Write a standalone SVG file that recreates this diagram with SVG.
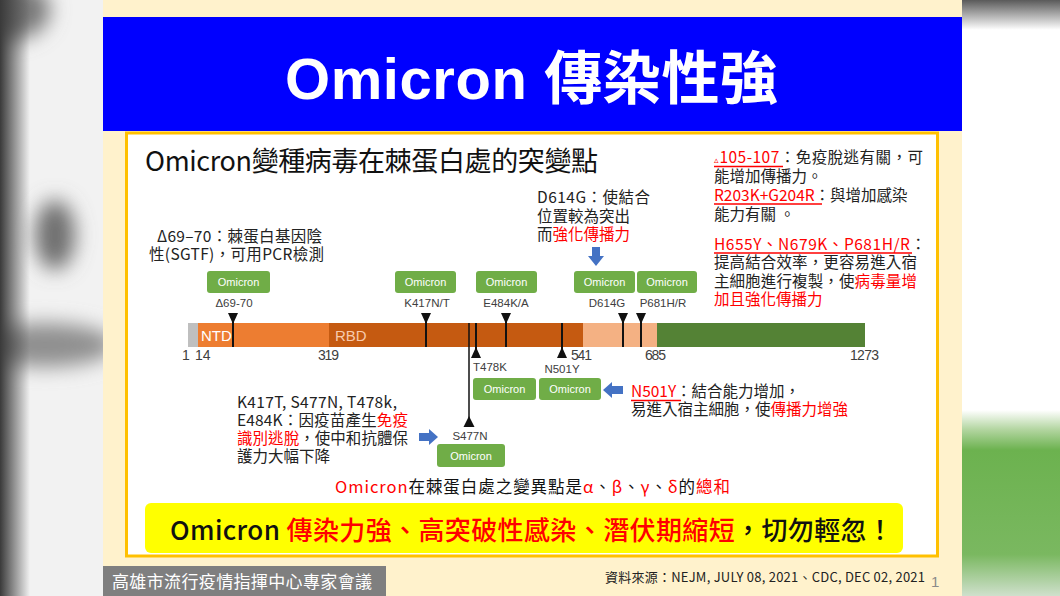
<svg xmlns="http://www.w3.org/2000/svg" width="1060" height="596" viewBox="0 0 1060 596">
<style>
.cjk{font-family:"Noto Sans CJK TC","Noto Sans",sans-serif;}
.body{font-family:"Noto Sans CJK TC","Noto Sans",sans-serif;font-size:15.5px;fill:#222;}
.red{fill:#ff0000;}
.lbl{font-family:"Liberation Sans","DejaVu Sans",sans-serif;font-size:11.5px;fill:#404040;text-anchor:middle;}
.num{font-family:"Liberation Sans","DejaVu Sans",sans-serif;font-size:14px;fill:#404040;}
.box{fill:#70AD47;}
.boxt{font-family:"Liberation Sans",sans-serif;font-size:11px;fill:#fff;text-anchor:middle;}
.mk{stroke:#111;stroke-width:2;}
.tri{fill:#111;}
.arr{fill:#4472C4;}
.ul{stroke:#ff0000;stroke-width:1.3;}
</style>
<defs>
<filter id="blur" x="-50%" y="-50%" width="200%" height="200%"><feGaussianBlur stdDeviation="10"/></filter>
<linearGradient id="lg" x1="0" y1="0" x2="1" y2="0">
<stop offset="0" stop-color="#3a3a3a"/><stop offset="1" stop-color="#3a3a3a" stop-opacity="0"/>
</linearGradient>
<linearGradient id="rg" x1="0" y1="0" x2="0" y2="1">
<stop offset="0" stop-color="#5a5a5a"/>
<stop offset="0.05" stop-color="#ffffff"/>
<stop offset="0.688" stop-color="#ffffff"/>
<stop offset="0.72" stop-color="#b4d6a2"/>
<stop offset="0.755" stop-color="#6cb24f"/>
<stop offset="0.93" stop-color="#7ab860"/>
<stop offset="1" stop-color="#cfe0cc"/>
</linearGradient>
</defs>

<g id="background">
<rect x="0" y="0" width="103" height="596" fill="#f2f2f2"/>
<g filter="url(#blur)">
<ellipse cx="55" cy="235" rx="20" ry="35" fill="#6e6e6e"/>
<ellipse cx="45" cy="345" rx="70" ry="22" fill="#8f8f8f"/>
<ellipse cx="10" cy="10" rx="40" ry="30" fill="#777"/>
</g>
<rect x="0" y="0" width="30" height="596" fill="url(#lg)"/>
<rect x="962" y="0" width="98" height="596" fill="url(#rg)"/>
</g>

<g id="slide">
<rect x="103" y="0" width="859" height="596" fill="#FFF2CC"/>
<rect x="103" y="17" width="859" height="114" fill="#0000FF"/>
<text x="285" y="99" textLength="493" font-family="Liberation Sans,Noto Sans CJK TC,sans-serif" font-weight="bold" font-size="58" fill="#fff">Omicron 傳染性強</text>
<rect x="126.5" y="133" width="811" height="423" fill="#fff" stroke="#FFC000" stroke-width="3"/>
<text x="145" y="171" textLength="453" class="cjk" font-size="27" fill="#111">Omicron變種病毒在棘蛋白處的突變點</text>
</g>

<g id="bar">
<rect x="188" y="323" width="10" height="24" fill="#BFBFBF"/>
<rect x="198" y="323" width="131" height="24" fill="#ED7D31"/>
<rect x="329" y="323" width="254" height="24" fill="#C55A11"/>
<rect x="583" y="323" width="74" height="24" fill="#F4B183"/>
<rect x="657" y="323" width="208" height="24" fill="#548235"/>
<text x="201" y="341" font-family="Liberation Sans,sans-serif" font-size="15" fill="#fff">NTD</text>
<text x="335" y="341" font-family="Liberation Sans,sans-serif" font-size="15" fill="#F8CBAD">RBD</text>
<text class="num" x="182" y="360">1</text>
<text class="num" x="195" y="360">14</text>
<text class="num" x="318" y="360" textLength="21">319</text>
<text class="num" x="571" y="360" textLength="21">541</text>
<text class="num" x="645" y="360" textLength="21">685</text>
<text class="num" x="850" y="360" textLength="29">1273</text>
</g>

<g id="connectors">
<line class="mk" x1="233" y1="313" x2="233" y2="347"/><polygon class="tri" points="228,313 238,313 233,324"/>
<line class="mk" x1="426" y1="313" x2="426" y2="347"/><polygon class="tri" points="421,313 431,313 426,324"/>
<line class="mk" x1="506" y1="313" x2="506" y2="347"/><polygon class="tri" points="501,313 511,313 506,324"/>
<line class="mk" x1="623" y1="313" x2="623" y2="347"/><polygon class="tri" points="618,313 628,313 623,324"/>
<line class="mk" x1="641" y1="313" x2="641" y2="347"/><polygon class="tri" points="636,313 646,313 641,324"/>
<line class="mk" x1="476" y1="323" x2="476" y2="350"/><polygon class="tri" points="476,347 471,358 481,358"/>
<line class="mk" x1="562" y1="323" x2="562" y2="350"/><polygon class="tri" points="562,347 557,358 567,358"/>
<line x1="469" y1="323" x2="469" y2="420" stroke="#111" stroke-width="1.5"/><polygon class="tri" points="469,416 463.5,427 474.5,427"/>
<path class="arr" d="M592,247 H600 V256 H604 L596,266 L588,256 H592 Z"/>
<path class="arr" d="M603,390 L612,382 V386 H623 V394 H612 V398 Z"/>
<path class="arr" d="M419,433 H429 V429 L438,437 L429,445 V441 H419 Z"/>
</g>

<g id="m-d69-70"><rect class="box" x="207" y="271" width="63" height="22" rx="3"/><text class="boxt" x="238.5" y="286">Omicron</text><text class="lbl" x="234" y="307">Δ69-70</text></g>
<g id="m-k417"><rect class="box" x="395" y="271" width="61" height="22" rx="3"/><text class="boxt" x="425.5" y="286">Omicron</text><text class="lbl" x="427" y="307">K417N/T</text></g>
<g id="m-e484"><rect class="box" x="476" y="271" width="61" height="22" rx="3"/><text class="boxt" x="506.5" y="286">Omicron</text><text class="lbl" x="506" y="307">E484K/A</text></g>
<g id="m-d614g"><rect class="box" x="574" y="271" width="61" height="22" rx="3"/><text class="boxt" x="604.5" y="286">Omicron</text><text class="lbl" x="607" y="307">D614G</text></g>
<g id="m-p681"><rect class="box" x="637" y="271" width="60" height="22" rx="3"/><text class="boxt" x="667" y="286">Omicron</text><text class="lbl" x="663" y="307">P681H/R</text></g>
<g id="m-t478k"><text class="lbl" x="490" y="371">T478K</text><rect class="box" x="473" y="378" width="63" height="22" rx="3"/><text class="boxt" x="504.5" y="393">Omicron</text></g>
<g id="m-n501y"><text class="lbl" x="562" y="373">N501Y</text><rect class="box" x="539" y="378" width="62" height="22" rx="3"/><text class="boxt" x="570" y="393">Omicron</text></g>
<g id="m-s477n"><text class="lbl" x="470" y="440">S477N</text><rect class="box" x="437" y="444" width="68" height="23" rx="3"/><text class="boxt" x="471" y="460">Omicron</text></g>

<g id="note-d69">
<text class="body" x="157" y="242" textLength="165">Δ69–70：棘蛋白基因陰</text>
<text class="body" x="149" y="260" textLength="175">性(SGTF)，可用PCR檢測</text>
</g>
<g id="note-d614g">
<text class="body" x="537" y="203" textLength="113">D614G：使結合</text>
<text class="body" x="537" y="222">位置較為突出</text>
<text class="body" x="537" y="240">而<tspan class="red">強化傳播力</tspan></text>
</g>
<g id="note-right">
<text class="body" x="714" y="163" textLength="209"><tspan class="red" font-size="9">▵</tspan><tspan class="red">105-107</tspan>：免疫脫逃有關，可</text>
<line class="ul" x1="714" y1="166.5" x2="783" y2="166.5"/>
<text class="body" x="714" y="182">能增加傳播力。</text>
<text class="body" x="714" y="201"><tspan class="red">R203K+G204R</tspan>：與增加感染</text>
<line class="ul" x1="714" y1="204" x2="822" y2="204"/>
<text class="body" x="714" y="220">能力有關 。</text>
<text class="body" x="714" y="250" textLength="212"><tspan class="red">H655Y、N679K、P681H/R</tspan>：</text>
<line class="ul" x1="714" y1="253" x2="912" y2="253"/>
<text class="body" x="714" y="268" textLength="203">提高結合效率，更容易進入宿</text>
<text class="body" x="714" y="287" textLength="203">主細胞進行複製，使<tspan class="red">病毒量增</tspan></text>
<text class="body" x="714" y="305"><tspan class="red">加且強化傳播力</tspan></text>
</g>
<g id="note-n501y">
<text class="body" x="631" y="397" textLength="169"><tspan class="red">N501Y</tspan>：結合能力增加，</text>
<line class="ul" x1="631" y1="400.5" x2="681" y2="400.5"/>
<text class="body" x="631" y="415" textLength="217">易進入宿主細胞，使<tspan class="red">傳播力增強</tspan></text>
</g>
<g id="note-escape">
<text class="body" x="237" y="408" textLength="160">K417T, S477N, T478k,</text>
<text class="body" x="237" y="426" textLength="171">E484K：因疫苗產生<tspan class="red">免疫</tspan></text>
<text class="body" x="237" y="444" textLength="171"><tspan class="red">識別逃脫</tspan>，使中和抗體保</text>
<text class="body" x="237" y="462">護力大幅下降</text>
</g>
<g id="summary">
<text class="cjk" x="335" y="493" textLength="395" font-size="16.5" fill="#111"><tspan fill="#ff0000">Omicron</tspan>在棘蛋白處之變異點是<tspan fill="#ff0000">α</tspan>、<tspan fill="#ff0000">β</tspan>、<tspan fill="#ff0000">γ</tspan>、<tspan fill="#ff0000">δ</tspan>的<tspan fill="#ff0000">總和</tspan></text>
</g>
<g id="banner">
<rect x="145" y="503" width="758" height="50" rx="6" fill="#FFFF00"/>
<text class="cjk" x="170" y="540" textLength="723" font-size="26" font-weight="500" fill="#111">Omicron <tspan fill="#ff0000">傳染力強、高突破性感染、潛伏期縮短</tspan>，切勿輕忽！</text>
</g>

<g id="footer">
<rect x="103" y="566" width="283" height="30" fill="#7F7F7F"/>
<text class="cjk" x="112" y="588" textLength="260" font-size="17" fill="#fff">高雄市流行疫情指揮中心專家會議</text>
<text class="cjk" x="605" y="582" textLength="320" font-size="13" fill="#222">資料來源：NEJM, JULY 08, 2021、CDC, DEC 02, 2021</text>
<text x="931" y="587" font-family="Liberation Sans,sans-serif" font-size="15" fill="#8a8a8a">1</text>
</g>
</svg>
